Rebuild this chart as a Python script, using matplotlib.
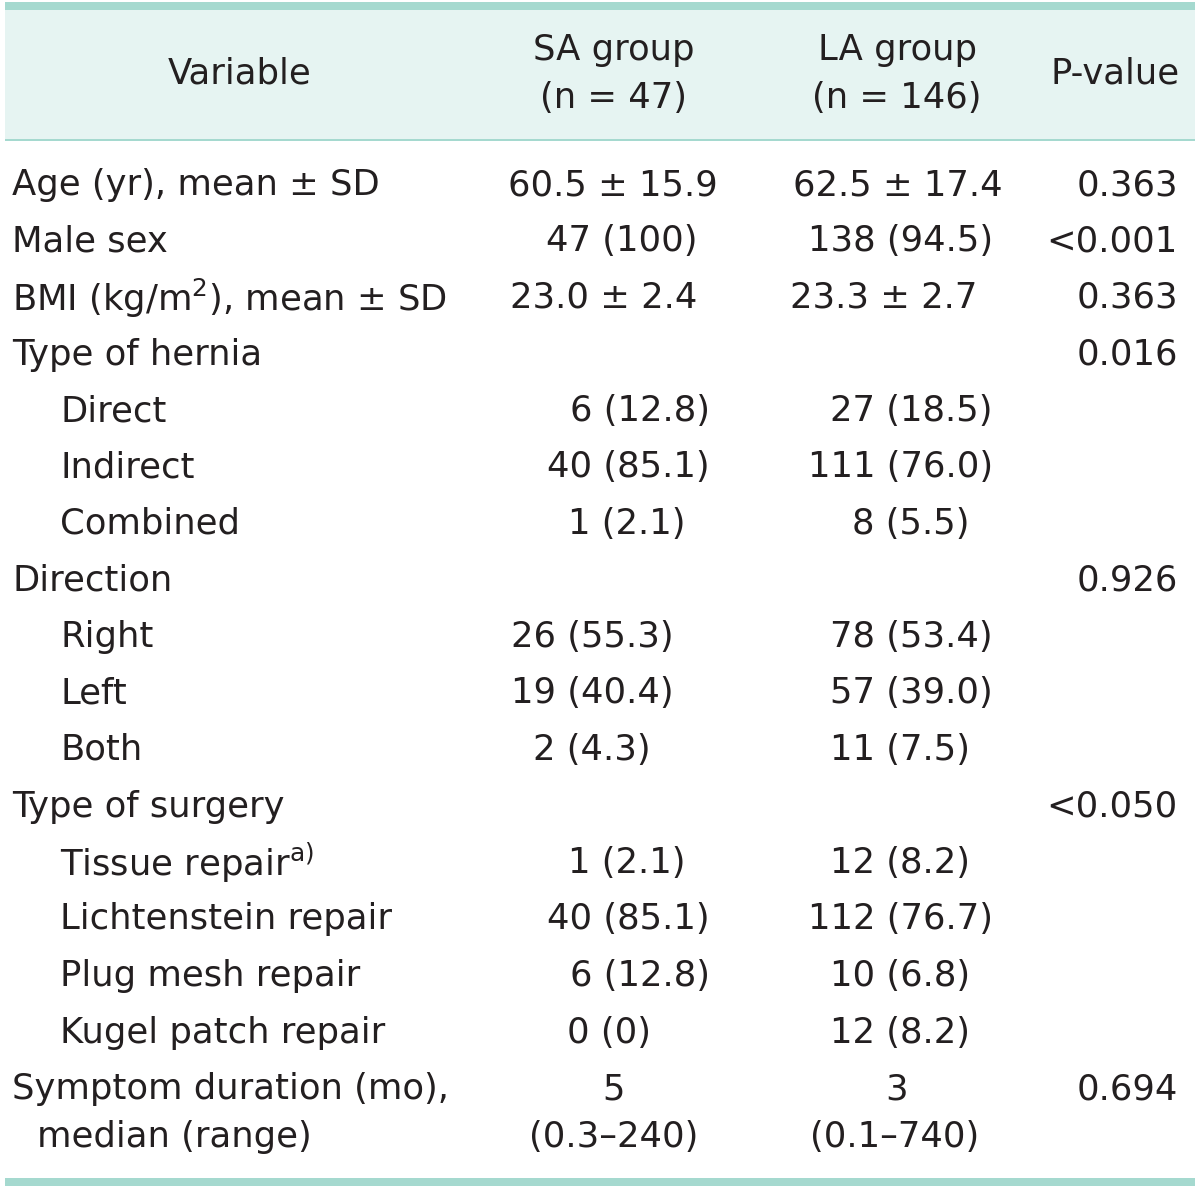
import matplotlib
matplotlib.use("Agg")
import matplotlib.pyplot as plt
from matplotlib.patches import Rectangle

plt.rcParams["font.family"] = ["DejaVu Sans"]
plt.rcParams["mathtext.default"] = "regular"

# table content
header_var = "Variable"
header_sa = "SA group\n(n = 47)"
header_la = "LA group\n(n = 146)"
header_p = "P-value"

variables = [
    "Age (yr), mean ± SD", "Male sex", "BMI (kg/m$^{2}$), mean ± SD",
    "Type of hernia", "Direct", "Indirect", "Combined",
    "Direction", "Right", "Left", "Both",
    "Type of surgery", "Tissue repair$^{a)}$", "Lichtenstein repair",
    "Plug mesh repair", "Kugel patch repair",
    "Symptom duration (mo),",
]
indented = [False, False, False, False, True, True, True, False, True, True,
            True, False, True, True, True, True, False]
sa_vals = ["60.5 ± 15.9", "47 (100)", "23.0 ± 2.4", "", "6 (12.8)",
           "40 (85.1)", "1 (2.1)", "", "26 (55.3)", "19 (40.4)", "2 (4.3)",
           "", "1 (2.1)", "40 (85.1)", "6 (12.8)", "0 (0)", "5"]
la_vals = ["62.5 ± 17.4", "138 (94.5)", "23.3 ± 2.7", "", "27 (18.5)",
           "111 (76.0)", "8 (5.5)", "", "78 (53.4)", "57 (39.0)", "11 (7.5)",
           "", "12 (8.2)", "112 (76.7)", "10 (6.8)", "12 (8.2)", "3"]
p_vals = ["0.363", "<0.001", "0.363", "0.016", "", "", "", "0.926", "", "",
          "", "<0.050", "", "", "", "", "0.694"]
last_line = ["median (range)", "(0.3–240)", "(0.1–740)"]

# right edges of cells in the two group columns (the source uses loose alignment)
sa_right = [718, 698, 697, None, 710, 710, 686, None, 674, 674, 651, None,
            686, 710, 710, 651, None]
la_right = [1003, 993, 977, None, 993, 993, 970, None, 993, 993, 970, None,
            970, 993, 970, 970, None]

W, H = 1200, 1192
teal = "#a5d9cf"
fill = "#e6f4f2"
txt = "#231f20"
fs = 25.5

fig = plt.figure(figsize=(W / 100, H / 100), dpi=100)
ax = fig.add_axes([0, 0, 1, 1])
ax.set_xlim(0, W)
ax.set_ylim(H, 0)
ax.axis("off")

# header band and rules
ax.add_patch(Rectangle((5, 9), 1190, 131, color=fill, lw=0))
ax.add_patch(Rectangle((5, 2), 1190, 7.5, color=teal, lw=0))
ax.add_patch(Rectangle((5, 139), 1190, 2, color=teal, lw=0))
ax.add_patch(Rectangle((5, 1178), 1190, 8, color=teal, lw=0))

ax.text(240, 73, header_var, ha="center", va="center", fontsize=fs, color=txt)
ax.text(614, 50, header_sa.split("\n")[0], ha="center", va="center", fontsize=fs, color=txt)
ax.text(614, 98, header_sa.split("\n")[1], ha="center", va="center", fontsize=fs, color=txt)
ax.text(897, 50, header_la.split("\n")[0], ha="center", va="center", fontsize=fs, color=txt)
ax.text(897, 98, header_la.split("\n")[1], ha="center", va="center", fontsize=fs, color=txt)
ax.text(1115, 73, header_p, ha="center", va="center", fontsize=fs, color=txt)

y0, dy = 185, 56.5
for i, name in enumerate(variables):
    y = y0 + i * dy
    ax.text(60 if indented[i] else 12, y, name, ha="left", va="center",
            fontsize=fs, color=txt)
    if sa_right[i] is None:
        ax.text(614, y, sa_vals[i], ha="center", va="center", fontsize=fs, color=txt)
    else:
        ax.text(sa_right[i], y, sa_vals[i], ha="right", va="center", fontsize=fs, color=txt)
    if la_right[i] is None:
        ax.text(897, y, la_vals[i], ha="center", va="center", fontsize=fs, color=txt)
    else:
        ax.text(la_right[i], y, la_vals[i], ha="right", va="center", fontsize=fs, color=txt)
    ax.text(1178, y, p_vals[i], ha="right", va="center", fontsize=fs, color=txt)

yl = 1137
ax.text(37, yl, last_line[0], ha="left", va="center", fontsize=fs, color=txt)
ax.text(614, yl, last_line[1], ha="center", va="center", fontsize=fs, color=txt)
ax.text(895, yl, last_line[2], ha="center", va="center", fontsize=fs, color=txt)

fig.savefig("out.png", dpi=100, facecolor="white")
